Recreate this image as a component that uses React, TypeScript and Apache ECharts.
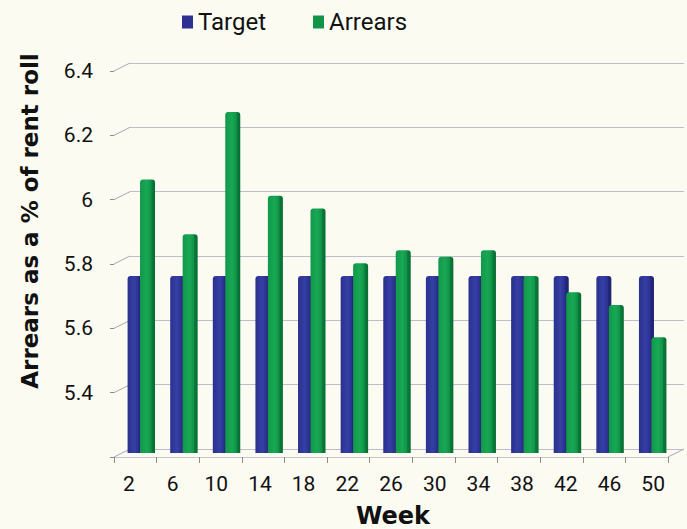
import React, { useEffect, useRef } from "react";
import * as echarts from "echarts";

// Weekly arrears against target, as a % of the rent roll
const weeks = ["2", "6", "10", "14", "18", "22", "26", "30", "34", "38", "42", "46", "50"];
const target = [5.75, 5.75, 5.75, 5.75, 5.75, 5.75, 5.75, 5.75, 5.75, 5.75, 5.75, 5.75, 5.75];
const arrears = [6.05, 5.88, 6.26, 6.0, 5.96, 5.79, 5.83, 5.81, 5.83, 5.75, 5.7, 5.66, 5.56];
const yTicks = [5.2, 5.4, 5.6, 5.8, 6.0, 6.2, 6.4];
const Y_MIN = 5.2;
const Y_MAX = 6.4;
const Y_STEP = 0.2;

// depth offset of the pseudo-3D back wall
const DX = 16;
const DY = -8;

const LABEL_FONT = "Roboto, 'Open Sans', sans-serif";
const TITLE_FONT = "'DejaVu Sans', Lato, sans-serif";

export default function App() {
  const ref = useRef<HTMLDivElement>(null);

  useEffect(() => {
    if (!ref.current) return;
    const chart = echarts.init(ref.current, null, { renderer: "svg" });

    const valueAxisBase = {
      type: "value" as const,
      min: Y_MIN,
      max: Y_MAX,
      interval: Y_STEP,
    };

    const blueGrad = new echarts.graphic.LinearGradient(0, 0, 1, 0, [
      { offset: 0, color: "#2a308e" },
      { offset: 0.45, color: "#363fa4" },
      { offset: 0.75, color: "#2b308f" },
      { offset: 0.8, color: "#22277a" },
      { offset: 1, color: "#1d2170" },
    ]);
    const greenGrad = new echarts.graphic.LinearGradient(0, 0, 1, 0, [
      { offset: 0, color: "#12984a" },
      { offset: 0.45, color: "#18a855" },
      { offset: 0.74, color: "#109447" },
      { offset: 0.79, color: "#0b7b3b" },
      { offset: 1, color: "#086b32" },
    ]);

    chart.setOption({
      animation: false,
      backgroundColor: "#fbfbf2",
      legend: {
        left: 177,
        top: 5,
        icon: "rect",
        itemWidth: 11,
        itemHeight: 13,
        itemGap: 47,
        itemStyle: { borderWidth: 0 },
        textStyle: { fontSize: 24, color: "#111", fontFamily: LABEL_FONT },
        data: [
          { name: "Target", itemStyle: { color: "#2e3192" } },
          { name: "Arrears", itemStyle: { color: "#119447" } },
        ],
      },
      grid: [
        // front plane: ticks and tick labels
        { left: 114, top: 71, width: 554, height: 386 },
        // back wall: gridlines
        { left: 114 + DX, top: 71 + DY, width: 554, height: 386 },
        // bars, halfway in depth
        { left: 120, top: 67, width: 554, height: 386 },
        // category labels
        { left: 107, top: 71, width: 568, height: 386 },
      ],
      xAxis: [
        {
          gridIndex: 0,
          type: "category",
          data: weeks,
          boundaryGap: true,
          axisLine: { show: true, lineStyle: { color: "#c6c6cf", width: 1 } },
          axisTick: { show: true, length: 6, lineStyle: { color: "#8a8a8a" } },
          axisLabel: { show: false },
        },
        { gridIndex: 1, type: "category", data: weeks, show: false },
        { gridIndex: 2, type: "category", data: weeks, show: false },
        {
          gridIndex: 3,
          type: "category",
          data: weeks,
          axisLine: { show: false },
          axisTick: { show: false },
          axisLabel: { fontSize: 21, color: "#111", margin: 16, fontFamily: LABEL_FONT },
        },
      ],
      yAxis: [
        {
          ...valueAxisBase,
          gridIndex: 0,
          axisLine: { show: false },
          axisTick: { show: true, length: 4, lineStyle: { color: "#8a8a8a" } },
          splitLine: { show: false },
          axisLabel: {
            fontSize: 21,
            color: "#111",
            margin: 21,
            fontFamily: LABEL_FONT,
            formatter: (v: number) =>
              Math.abs(v - Y_MIN) < 1e-6 ? "" : String(Number(v.toFixed(1))),
          },
        },
        {
          ...valueAxisBase,
          gridIndex: 1,
          axisLine: { show: false },
          axisTick: { show: false },
          axisLabel: { show: false },
          splitLine: { show: true, lineStyle: { color: "#bdbdcc", width: 1 } },
        },
        { ...valueAxisBase, gridIndex: 2, show: false, splitLine: { show: false } },
        { ...valueAxisBase, gridIndex: 3, show: false, splitLine: { show: false } },
      ],
      graphic: [
        {
          type: "text",
          x: 30,
          y: 221,
          rotation: Math.PI / 2,
          style: {
            text: "Arrears as a % of rent roll",
            fontSize: 23,
            fontWeight: "bold",
            fontFamily: TITLE_FONT,
            fill: "#111",
            align: "center",
            verticalAlign: "middle",
          },
        },
        {
          type: "text",
          x: 393,
          y: 516,
          style: {
            text: "Week",
            fontSize: 24,
            fontWeight: "bold",
            fontFamily: TITLE_FONT,
            fill: "#111",
            align: "center",
            verticalAlign: "middle",
          },
        },
      ],
      series: [
        {
          // depth connectors from front ticks to the back wall
          type: "custom",
          xAxisIndex: 0,
          yAxisIndex: 0,
          clip: false,
          silent: true,
          data: yTicks.map((v) => [0, v]),
          renderItem: (_p: any, api: any) => {
            const v = api.value(1);
            const pt = api.coord([0, v]);
            const w = api.size([1, 0])[0];
            const x0 = pt[0] - w / 2;
            const style = { stroke: "#a8a8b0", lineWidth: 1 };
            const children: any[] = [
              { type: "line", shape: { x1: x0, y1: pt[1], x2: x0 + DX, y2: pt[1] + DY }, style },
            ];
            if (Math.abs(v - Y_MIN) < 1e-6) {
              const xr = x0 + w * weeks.length;
              children.push({
                type: "line",
                shape: { x1: xr, y1: pt[1], x2: xr + DX, y2: pt[1] + DY },
                style,
              });
            }
            return { type: "group", children };
          },
        },
        {
          name: "Target",
          type: "bar",
          xAxisIndex: 2,
          yAxisIndex: 2,
          data: target,
          barWidth: 15,
          barGap: "-17%",
          z: 3,
          itemStyle: { color: blueGrad, borderRadius: [3, 3, 0, 0] },
        },
        {
          name: "Arrears",
          type: "bar",
          xAxisIndex: 2,
          yAxisIndex: 2,
          data: arrears,
          barWidth: 15,
          barGap: "-17%",
          z: 4,
          itemStyle: { color: greenGrad, borderRadius: [3, 3, 0, 0] },
        },
      ],
    });

    return () => chart.dispose();
  }, []);

  return (
    <div
      ref={ref}
      style={{ position: "fixed", left: 0, top: 0, width: 687, height: 529 }}
    />
  );
}
